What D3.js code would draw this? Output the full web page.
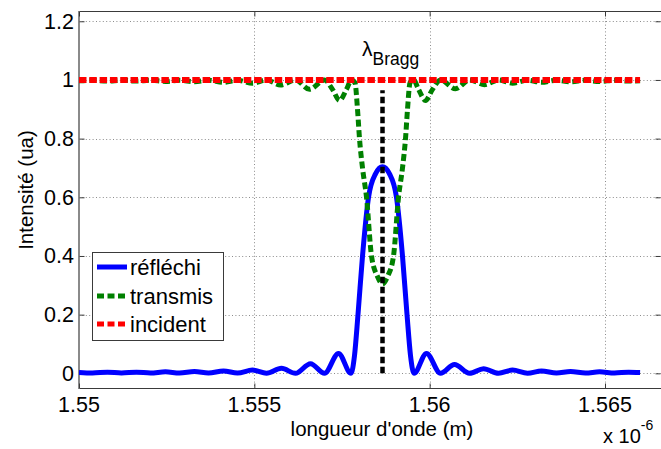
<!DOCTYPE html>
<html>
<head>
<meta charset="utf-8">
<script src="https://cdn.jsdelivr.net/npm/d3@7"></script>
<style>
  body { margin: 0; background: #fff; }
  text { font-family: Arial, "Liberation Sans", Helvetica, sans-serif; fill: #000; }
</style>
</head>
<body>
<svg id="chart" width="661" height="449"></svg>
<script>
// Wavelength samples (in units of 1e-6 m) and reflected intensity
const reflWavelength = [
  1.55, 1.550384, 1.550812, 1.551211, 1.551639, 1.552038, 1.552466, 1.552865,
  1.553293, 1.553693, 1.554120, 1.554520, 1.554947, 1.555347, 1.555774, 1.556174,
  1.556602, 1.557001, 1.557400, 1.557757, 1.557856, 1.557956, 1.558085, 1.558256,
  1.558455, 1.558655, 1.558855, 1.559054, 1.559225, 1.559354, 1.559454, 1.559553,
  1.559910, 1.560309, 1.560708, 1.561136, 1.561536, 1.561963, 1.562363, 1.562790,
  1.563190, 1.563617, 1.564017, 1.564445, 1.564844, 1.565272, 1.565671, 1.566
];
const reflechi = [
  0.003, 0.001, 0.004, 0.001, 0.004, 0.001, 0.005, 0.001,
  0.006, 0.001, 0.008, 0.001, 0.011, 0.000, 0.017, 0.000,
  0.033, 0.000, 0.068, 0.000, 0.060, 0.200, 0.400, 0.600,
  0.680, 0.704, 0.680, 0.600, 0.400, 0.200, 0.060, 0.000,
  0.068, 0.000, 0.030, 0.000, 0.016, 0.000, 0.011, 0.000,
  0.008, 0.001, 0.006, 0.001, 0.005, 0.001, 0.004, 0.003
];

// Transmitted intensity
const transWavelength = [
  1.55, 1.550384, 1.550812, 1.551211, 1.551639, 1.552038, 1.552466, 1.552865,
  1.553293, 1.553693, 1.554120, 1.554520, 1.554947, 1.555347, 1.555746, 1.556174,
  1.556573, 1.557001, 1.557229, 1.557429, 1.557628, 1.557771, 1.557871, 1.557942,
  1.557999, 1.558085, 1.558199, 1.558341, 1.558512, 1.558655, 1.558798, 1.558969,
  1.559111, 1.559225, 1.559311, 1.559368, 1.559439, 1.559539, 1.559682, 1.559881,
  1.560081, 1.560309, 1.560737, 1.561136, 1.561564, 1.561963, 1.562363, 1.562790,
  1.563190, 1.563617, 1.564017, 1.564445, 1.564844, 1.565272, 1.565671, 1.566
];
const transmis = [
  0.997, 0.999, 0.996, 0.999, 0.996, 0.999, 0.995, 0.999,
  0.994, 0.999, 0.992, 0.999, 0.989, 1.000, 0.983, 1.000,
  0.968, 1.000, 0.968, 0.930, 0.968, 1.000, 0.990, 0.900,
  0.800, 0.700, 0.600, 0.400, 0.330, 0.305, 0.330, 0.400,
  0.600, 0.700, 0.800, 0.900, 0.990, 1.000, 0.968, 0.930,
  0.968, 1.000, 0.970, 1.000, 0.984, 1.000, 0.989, 0.999,
  0.992, 0.999, 0.994, 0.999, 0.995, 0.999, 0.996, 0.997
];

// Incident intensity (flat)
const incidentWavelength = [1.55, 1.566];
const incident = [1, 1];

// Bragg wavelength marker
const braggWavelength = [1.558655, 1.558655];
const braggLevel = [0, 0.965];

const seriesNames = ["réfléchi", "transmis", "incident"];
const xTicks = [1.55, 1.555, 1.56, 1.565];
const xTickLabels = ["1.55", "1.555", "1.56", "1.565"];
const yTicks = [0, 0.2, 0.4, 0.6, 0.8, 1, 1.2];
const yTickLabels = ["0", "0.2", "0.4", "0.6", "0.8", "1", "1.2"];

const svg = d3.select("#chart");
const plotLeft = 79, plotRight = 661, plotTop = 11, plotBottom = 388;

const x = d3.scaleLinear().domain([1.55, 1.55 + (plotRight - plotLeft) / 35067]).range([plotLeft, plotRight]);
const y = d3.scaleLinear().domain([-0.05, 1.235]).range([plotBottom, plotTop]);

svg.append("defs").append("clipPath").attr("id", "plotClip")
  .append("rect").attr("x", plotLeft).attr("y", plotTop)
  .attr("width", plotRight - plotLeft).attr("height", plotBottom - plotTop);

// Grid
const grid = svg.append("g").attr("stroke", "#8c8c8c").attr("stroke-width", 1)
  .attr("stroke-dasharray", "1,2.4");
grid.selectAll(".gx").data(xTicks).join("line")
  .attr("x1", d => Math.round(x(d)) + 0.5).attr("x2", d => Math.round(x(d)) + 0.5)
  .attr("y1", plotTop).attr("y2", plotBottom);
grid.selectAll(".gy").data(yTicks).join("line")
  .attr("y1", d => Math.round(y(d)) + 0.5).attr("y2", d => Math.round(y(d)) + 0.5)
  .attr("x1", plotLeft).attr("x2", plotRight);

// Axes frame and ticks
const axisColor = "#3a3a3a";
svg.append("line").attr("x1", plotLeft).attr("x2", plotRight + 1).attr("y1", plotTop + 0.5).attr("y2", plotTop + 0.5)
  .attr("stroke", axisColor);
svg.append("line").attr("x1", plotLeft).attr("x2", plotRight + 1).attr("y1", plotBottom + 0.5).attr("y2", plotBottom + 0.5)
  .attr("stroke", axisColor);
svg.append("line").attr("x1", plotLeft).attr("x2", plotLeft).attr("y1", plotTop).attr("y2", plotBottom + 1)
  .attr("stroke", "#8a8a8a").attr("stroke-width", 2);

const xAxisBottom = d3.axisBottom(x).tickValues(xTicks).tickSize(-5).tickFormat(() => "");
const xAxisTop = d3.axisTop(x).tickValues(xTicks).tickSize(-5).tickFormat(() => "");
const yAxisLeft = d3.axisLeft(y).tickValues(yTicks).tickSize(-5).tickFormat(() => "");
const yAxisRight = d3.axisRight(y).tickValues(yTicks).tickSize(-5).tickFormat(() => "");
[[xAxisBottom, `translate(0,${plotBottom + 0.5})`], [xAxisTop, `translate(0,${plotTop + 0.5})`],
 [yAxisLeft, `translate(${plotLeft + 0.5},0)`], [yAxisRight, `translate(${plotRight - 0.5},0)`]]
  .forEach(([ax, tr]) => {
    const g = svg.append("g").attr("transform", tr).call(ax);
    g.select(".domain").remove();
    g.selectAll(".tick line").attr("stroke", axisColor);
  });

// Tick labels
svg.append("g").selectAll("text").data(xTicks).join("text")
  .attr("x", d => x(d)).attr("y", 412).attr("text-anchor", "middle")
  .attr("font-size", 21.5).text((d, i) => xTickLabels[i]);
svg.append("g").selectAll("text").data(yTicks).join("text")
  .attr("x", 74).attr("y", d => y(d) + 7.5).attr("text-anchor", "end")
  .attr("font-size", 21.5).text((d, i) => yTickLabels[i]);

// Axis titles
svg.append("text").attr("x", 382).attr("y", 436).attr("text-anchor", "middle")
  .attr("font-size", 20.5).text("longueur d'onde (m)");
svg.append("text").attr("transform", "translate(33,190) rotate(-90)")
  .attr("text-anchor", "middle").attr("font-size", 20.5).text("Intensité (ua)");
const expo = svg.append("text").attr("x", 603).attr("y", 443).attr("font-size", 20);
expo.append("tspan").text("x 10");
expo.append("tspan").attr("dy", -13).attr("font-size", 14).text("-6");

// Curves
const plot = svg.append("g").attr("clip-path", "url(#plotClip)");
const line = d3.line().x(d => x(d[0])).y(d => y(d[1])).curve(d3.curveMonotoneX);

plot.append("path").datum(d3.zip(reflWavelength, reflechi))
  .attr("d", line).attr("fill", "none").attr("stroke", "#0000ff").attr("stroke-width", 5)
  .attr("stroke-linejoin", "round");
plot.append("path").datum(d3.zip(transWavelength, transmis))
  .attr("d", line).attr("fill", "none").attr("stroke", "#008000").attr("stroke-width", 5)
  .attr("stroke-dasharray", "7,3.5");
plot.append("path").datum(d3.zip(incidentWavelength, incident))
  .attr("d", d3.line().x(d => x(d[0])).y(d => y(d[1])))
  .attr("fill", "none").attr("stroke", "#ff0000").attr("stroke-width", 6)
  .attr("stroke-dasharray", "7.5,2.8");
plot.append("path").datum(d3.zip(braggWavelength, braggLevel))
  .attr("d", d3.line().x(d => x(d[0])).y(d => y(d[1])))
  .attr("fill", "none").attr("stroke", "#000").attr("stroke-width", 4.5)
  .attr("stroke-dasharray", "6.5,3.5");

// Bragg label
const bragg = svg.append("text").attr("x", 362).attr("y", 56).attr("font-size", 21);
bragg.append("tspan").text("λ");
bragg.append("tspan").attr("dy", 9).attr("font-size", 17.5).text("Bragg");

// Legend
const legend = svg.append("g");
legend.append("rect").attr("x", 92.5).attr("y", 252.5).attr("width", 131).attr("height", 88)
  .attr("fill", "#fff").attr("stroke", "#3a3a3a");
const legendStyles = [
  { color: "#0000ff", width: 5, dash: null },
  { color: "#008000", width: 5, dash: "7,3.5" },
  { color: "#ff0000", width: 5, dash: "7,3.5" }
];
const legendRows = [267, 296, 324];
seriesNames.forEach((name, i) => {
  const st = legendStyles[i];
  legend.append("line").attr("x1", 97).attr("x2", 127)
    .attr("y1", legendRows[i]).attr("y2", legendRows[i])
    .attr("stroke", st.color).attr("stroke-width", st.width)
    .attr("stroke-dasharray", st.dash);
  legend.append("text").attr("x", 130).attr("y", legendRows[i] + 8)
    .attr("font-size", 22).text(name);
});
</script>
</body>
</html>
